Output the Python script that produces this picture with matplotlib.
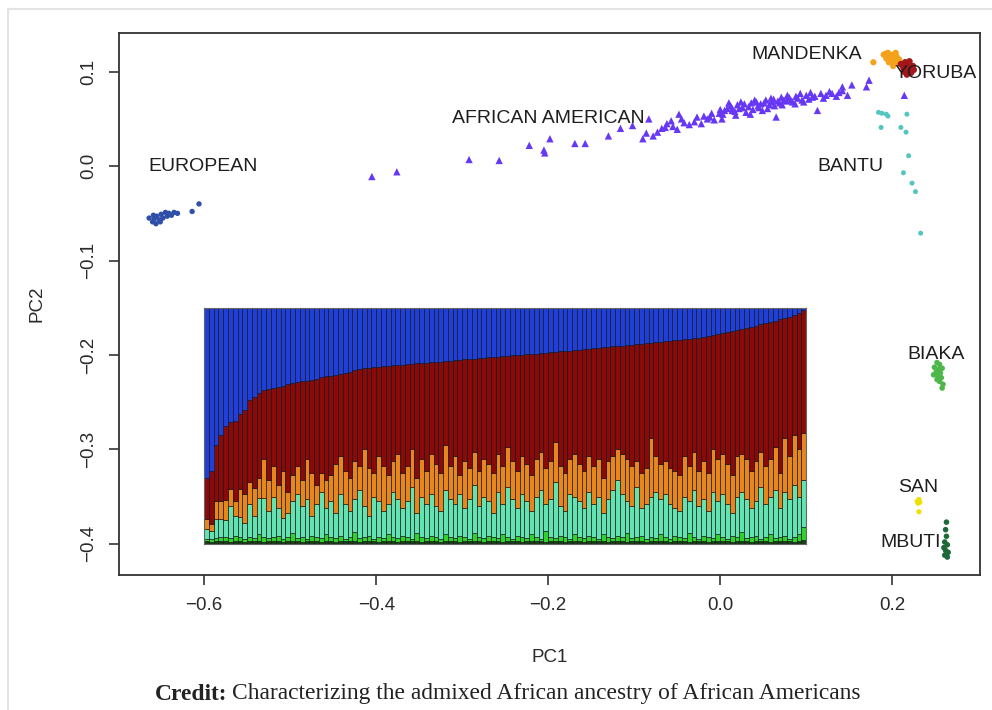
import matplotlib
matplotlib.use("Agg")
import matplotlib.pyplot as plt
from matplotlib.lines import Line2D
import numpy as np

# ---------------- scatter data (PC1, PC2) ----------------
european_x = [-0.664, -0.660, -0.658, -0.656, -0.655, -0.652, -0.650, -0.648, -0.645,
              -0.643, -0.641, -0.638, -0.635, -0.659, -0.651, -0.631, -0.614, -0.606]
european_y = [-0.055, -0.059, -0.056, -0.061, -0.053, -0.057, -0.051, -0.055, -0.049,
              -0.053, -0.050, -0.052, -0.049, -0.052, -0.059, -0.050, -0.048, -0.040]

aa_x = [-0.405, -0.376, -0.292, -0.257, -0.222, -0.205, -0.204, -0.198, -0.169, -0.157,
        -0.130, -0.116, -0.102, -0.086, -0.083, -0.073, -0.064, -0.057, -0.048, -0.042,
        -0.036, -0.027, -0.019, -0.010, -0.007, -0.001, 0.005, 0.010, 0.014, 0.020,
        0.026, 0.030, 0.036, 0.042, 0.045, 0.051, 0.055, 0.059, 0.060, 0.065,
        0.069, 0.074, 0.080, 0.084, 0.090, 0.095, 0.100, 0.107, 0.113, 0.117,
        0.123, 0.130, 0.138, 0.142, 0.148, 0.153, 0.170, 0.173, 0.142, 0.214,
        -0.030, -0.015, 0.000, 0.003, 0.008, 0.012, 0.017, 0.022, 0.028, 0.033,
        0.038, 0.040, 0.047, 0.049, 0.053, 0.057, 0.062, 0.063, 0.067, 0.071,
        0.072, 0.077, 0.078, 0.082, 0.087, 0.088, 0.093, 0.097, 0.103, 0.105,
        0.110, 0.120, 0.127, 0.135, -0.055, -0.050, -0.045, -0.068, -0.078, -0.090,
        -0.062, -0.022, -0.012, 0.018, 0.035, 0.002, 0.024, 0.044, 0.014]
aa_y = [-0.011, -0.006, 0.007, 0.006, 0.022, 0.017, 0.014, 0.029, 0.024, 0.024,
        0.032, 0.040, 0.043, 0.035, 0.050, 0.036, 0.041, 0.048, 0.055, 0.046,
        0.044, 0.052, 0.053, 0.056, 0.049, 0.056, 0.059, 0.067, 0.059, 0.065,
        0.062, 0.057, 0.067, 0.068, 0.062, 0.067, 0.061, 0.072, 0.068, 0.052,
        0.067, 0.070, 0.073, 0.068, 0.072, 0.070, 0.075, 0.073, 0.059, 0.077,
        0.075, 0.077, 0.078, 0.084, 0.075, 0.086, 0.084, 0.091, 0.080, 0.075,
        0.047, 0.050, 0.060, 0.055, 0.061, 0.064, 0.058, 0.061, 0.066, 0.063,
        0.060, 0.070, 0.066, 0.059, 0.070, 0.065, 0.071, 0.064, 0.069, 0.073,
        0.065, 0.069, 0.075, 0.070, 0.066, 0.074, 0.077, 0.068, 0.071, 0.078,
        0.074, 0.072, 0.079, 0.074, 0.042, 0.039, 0.050, 0.040, 0.032, 0.029,
        0.045, 0.045, 0.052, 0.054, 0.055, 0.050, 0.068, 0.064, 0.061]

mandenka_x = [0.178, 0.190, 0.193, 0.195, 0.197, 0.199, 0.200, 0.202, 0.203, 0.205,
              0.206, 0.208, 0.196, 0.201, 0.210, 0.192, 0.204]
mandenka_y = [0.110, 0.118, 0.114, 0.120, 0.116, 0.112, 0.118, 0.114, 0.109, 0.116,
              0.111, 0.113, 0.110, 0.106, 0.109, 0.119, 0.120]

yoruba_x = [0.210, 0.213, 0.215, 0.216, 0.218, 0.219, 0.221, 0.222, 0.224, 0.214,
            0.220, 0.217, 0.225]
yoruba_y = [0.108, 0.104, 0.110, 0.106, 0.101, 0.108, 0.104, 0.099, 0.106, 0.100,
            0.111, 0.097, 0.102]

bantu_x = [0.184, 0.188, 0.193, 0.195, 0.187, 0.217, 0.210, 0.216, 0.219, 0.213,
           0.223, 0.227, 0.233]
bantu_y = [0.057, 0.056, 0.055, 0.053, 0.041, 0.055, 0.041, 0.036, 0.011, -0.007,
           -0.018, -0.027, -0.071]

biaka_x = [0.252, 0.255, 0.249, 0.254, 0.258, 0.251, 0.256, 0.248, 0.253, 0.257,
           0.255, 0.259, 0.258, 0.252]
biaka_y = [-0.208, -0.210, -0.213, -0.215, -0.214, -0.218, -0.219, -0.221, -0.222,
           -0.224, -0.228, -0.231, -0.235, -0.226]

san_x = [0.229, 0.231, 0.230, 0.232, 0.231]
san_y = [-0.355, -0.353, -0.357, -0.356, -0.366]

mbuti_x = [0.263, 0.262, 0.263, 0.261, 0.264, 0.260, 0.262, 0.265, 0.261, 0.264]
mbuti_y = [-0.377, -0.385, -0.392, -0.398, -0.401, -0.404, -0.407, -0.409, -0.412, -0.414]

# population labels
label_names = ["EUROPEAN", "AFRICAN AMERICAN", "MANDENKA", "YORUBA", "BANTU",
               "BIAKA", "SAN", "MBUTI"]
label_x = [-0.601, -0.200, 0.100, 0.251, 0.151, 0.251, 0.230, 0.221]
label_y = [0.000, 0.050, 0.118, 0.098, 0.000, -0.200, -0.340, -0.399]

x_ticks = [-0.6, -0.4, -0.2, 0.0, 0.2]
x_ticklabels = ["\u22120.6", "\u22120.4", "\u22120.2", "0.0", "0.2"]
y_ticks = [0.1, 0.0, -0.1, -0.2, -0.3, -0.4]
y_ticklabels = ["0.1", "0.0", "\u22120.1", "\u22120.2", "\u22120.3", "\u22120.4"]

# ---------------- admixture bar data (cumulative boundaries) ----------------
mbuti_top = [0.010, 0.008, 0.010, 0.012, 0.010, 0.009, 0.011, 0.010, 0.008, 0.010,
             0.012, 0.010, 0.009, 0.010, 0.011, 0.010, 0.008, 0.010, 0.012, 0.010,
             0.009, 0.010, 0.011, 0.010, 0.008, 0.012, 0.010, 0.009, 0.010, 0.011,
             0.010, 0.012, 0.008, 0.010, 0.011, 0.010, 0.009, 0.010, 0.012, 0.010,
             0.008, 0.011, 0.010, 0.010, 0.012, 0.009, 0.010, 0.011, 0.010, 0.008,
             0.010, 0.012, 0.010, 0.009, 0.011, 0.010, 0.010, 0.012, 0.008, 0.010,
             0.011, 0.010, 0.009, 0.010, 0.012, 0.010, 0.008, 0.011, 0.010, 0.010,
             0.012, 0.009, 0.010, 0.011, 0.010, 0.008, 0.010, 0.012, 0.010, 0.009,
             0.011, 0.010, 0.010, 0.012, 0.008, 0.010, 0.011, 0.010, 0.009, 0.010,
             0.012, 0.010, 0.008, 0.011, 0.010, 0.010, 0.012, 0.009, 0.010, 0.011,
             0.010, 0.008, 0.010, 0.012, 0.010, 0.009, 0.011, 0.010, 0.010, 0.012,
             0.008, 0.010, 0.011, 0.010, 0.009, 0.010, 0.012, 0.010, 0.008, 0.011,
             0.010, 0.010, 0.012, 0.009, 0.010, 0.015]
green_top = [0.02, 0.02, 0.025, 0.03, 0.03, 0.025, 0.035, 0.03, 0.02, 0.03, 0.025, 0.04, 0.03,
             0.025, 0.03, 0.035, 0.02, 0.03, 0.045, 0.025, 0.03, 0.02, 0.035, 0.03, 0.025, 0.04,
             0.03, 0.025, 0.035, 0.02, 0.03, 0.05, 0.025, 0.03, 0.035, 0.02, 0.03, 0.025, 0.04,
             0.03, 0.025, 0.035, 0.03, 0.02, 0.045, 0.03, 0.025, 0.035, 0.03, 0.02, 0.04, 0.03,
             0.025, 0.035, 0.03, 0.02, 0.045, 0.03, 0.025, 0.035, 0.03, 0.025, 0.04, 0.03, 0.02,
             0.035, 0.03, 0.025, 0.04, 0.03, 0.02, 0.055, 0.03, 0.025, 0.035, 0.03, 0.02, 0.04,
             0.03, 0.025, 0.035, 0.03, 0.02, 0.04, 0.03, 0.025, 0.035, 0.03, 0.045, 0.025, 0.03,
             0.035, 0.02, 0.03, 0.025, 0.04, 0.03, 0.02, 0.035, 0.03, 0.025, 0.045, 0.03, 0.02,
             0.035, 0.03, 0.025, 0.04, 0.03, 0.02, 0.035, 0.03, 0.05, 0.025, 0.03, 0.035, 0.02,
             0.03, 0.04, 0.025, 0.03, 0.035, 0.02, 0.03, 0.04, 0.07]
teal_top = [0.064, 0.055, 0.106, 0.106, 0.10, 0.162, 0.12, 0.115, 0.09, 0.17, 0.12, 0.196, 0.196,
            0.14, 0.20, 0.15, 0.11, 0.13, 0.18, 0.21, 0.16, 0.19, 0.12, 0.17, 0.22, 0.15,
            0.18, 0.13, 0.21, 0.17, 0.14, 0.19, 0.23, 0.16, 0.12, 0.20, 0.18, 0.14, 0.17,
            0.22, 0.19, 0.15, 0.18, 0.24, 0.13, 0.20, 0.17, 0.21, 0.16, 0.14, 0.23, 0.19,
            0.17, 0.21, 0.15, 0.19, 0.25, 0.16, 0.20, 0.18, 0.13, 0.22, 0.17, 0.24, 0.19,
            0.15, 0.21, 0.18, 0.14, 0.20, 0.23, 0.17, 0.19, 0.26, 0.16, 0.14, 0.21, 0.20,
            0.18, 0.15, 0.22, 0.17, 0.20, 0.13, 0.19, 0.23, 0.27, 0.21, 0.18, 0.16, 0.24,
            0.15, 0.17, 0.20, 0.22, 0.19, 0.21, 0.17, 0.15, 0.14, 0.20, 0.18, 0.23, 0.16,
            0.19, 0.14, 0.22, 0.18, 0.21, 0.17, 0.13, 0.20, 0.22, 0.19, 0.15, 0.18, 0.24,
            0.17, 0.20, 0.23, 0.15, 0.22, 0.19, 0.25, 0.20, 0.27]
orange_top = [0.106, 0.085, 0.183, 0.18, 0.185, 0.234, 0.18, 0.234, 0.21, 0.26, 0.235, 0.28, 0.36,
              0.27, 0.33, 0.25, 0.31, 0.22, 0.29, 0.33, 0.27, 0.36, 0.30, 0.25, 0.30, 0.27,
              0.29, 0.34, 0.37, 0.31, 0.28, 0.35, 0.33, 0.40, 0.32, 0.30, 0.37, 0.33, 0.29,
              0.35, 0.38, 0.30, 0.33, 0.40, 0.28, 0.36, 0.31, 0.38, 0.34, 0.30, 0.42, 0.33,
              0.37, 0.29, 0.35, 0.32, 0.39, 0.31, 0.36, 0.34, 0.30, 0.38, 0.33, 0.41, 0.35,
              0.31, 0.37, 0.34, 0.29, 0.36, 0.39, 0.32, 0.35, 0.43, 0.33, 0.30, 0.36, 0.38,
              0.34, 0.31, 0.37, 0.33, 0.36, 0.28, 0.35, 0.37, 0.40, 0.38, 0.36, 0.33, 0.35,
              0.30, 0.32, 0.45, 0.37, 0.34, 0.35, 0.32, 0.31, 0.29, 0.37, 0.33, 0.39, 0.31,
              0.35, 0.30, 0.40, 0.36, 0.38, 0.34, 0.29, 0.37, 0.38, 0.36, 0.31, 0.35, 0.39,
              0.33, 0.36, 0.41, 0.30, 0.45, 0.37, 0.46, 0.40, 0.47]
red_top = [0.28, 0.31, 0.42, 0.46, 0.50, 0.515, 0.52, 0.55, 0.565, 0.61, 0.62, 0.64, 0.65,
           0.655, 0.66, 0.665, 0.67, 0.675, 0.68, 0.685, 0.69, 0.69, 0.695, 0.70, 0.705, 0.71,
           0.712, 0.715, 0.72, 0.725, 0.73, 0.735, 0.74, 0.745, 0.745, 0.748, 0.75, 0.752, 0.754,
           0.756, 0.757, 0.758, 0.76, 0.762, 0.764, 0.765, 0.767, 0.769, 0.77, 0.772, 0.774, 0.776,
           0.778, 0.78, 0.781, 0.783, 0.785, 0.786, 0.788, 0.79, 0.791, 0.793, 0.795, 0.796, 0.798,
           0.80, 0.801, 0.803, 0.805, 0.806, 0.808, 0.81, 0.812, 0.813, 0.815, 0.817, 0.819, 0.82,
           0.822, 0.824, 0.826, 0.828, 0.83, 0.832, 0.834, 0.836, 0.838, 0.84, 0.842, 0.844, 0.846,
           0.848, 0.85, 0.852, 0.854, 0.856, 0.858, 0.86, 0.862, 0.864, 0.866, 0.868, 0.871, 0.874,
           0.877, 0.881, 0.885, 0.889, 0.893, 0.897, 0.901, 0.905, 0.909, 0.913, 0.918, 0.924, 0.93,
           0.935, 0.94, 0.946, 0.951, 0.957, 0.963, 0.97, 0.978, 0.99]

# ---------------- figure ----------------
plt.rcParams['font.family'] = ['Liberation Sans', 'DejaVu Sans']
W, H = 992, 710
fig = plt.figure(figsize=(W / 100, H / 100), dpi=100)
fig.patch.set_facecolor('white')

# outer light frame (page box)
fig.add_artist(Line2D([8 / W, 8 / W], [0, 1 - 9 / H], transform=fig.transFigure,
                      color='#e3e3e3', lw=1.5))
fig.add_artist(Line2D([8 / W, 1], [1 - 9 / H, 1 - 9 / H], transform=fig.transFigure,
                      color='#e3e3e3', lw=1.5))

ax = fig.add_axes([119 / W, 1 - 575 / H, (980 - 119) / W, (575 - 33) / H])
ax.set_xlim(-0.699, 0.302)
ax.set_ylim(-0.433, 0.141)
for s in ax.spines.values():
    s.set_color('#333333')
    s.set_linewidth(1.3)

txtc = '#2a2a2a'
ax.set_xticks(x_ticks)
ax.set_xticklabels(x_ticklabels)
ax.set_yticks(y_ticks)
ax.set_yticklabels(y_ticklabels, rotation=90, va='center')
ax.tick_params(axis='both', direction='out', length=7, width=1.2, color='#333333',
               labelsize=13.5, labelcolor=txtc)
ax.tick_params(axis='x', pad=9)
ax.tick_params(axis='y', pad=9)
ax.set_xlabel('PC1', fontsize=13.5, color=txtc, labelpad=25)
ax.set_ylabel('PC2', fontsize=13.5, color=txtc, labelpad=25)

# scatter groups
ax.scatter(european_x, european_y, s=15, color='#2f4fa8', edgecolors='none', zorder=3)
ax.scatter(aa_x, aa_y, s=28, marker='^', color='#6638f5', edgecolors='none', zorder=3)
ax.scatter(bantu_x, bantu_y, s=13, color='#55c6bf', edgecolors='none', zorder=3)
ax.scatter(mandenka_x, mandenka_y, s=20, color='#f4a21c', edgecolors='none', zorder=3)
ax.scatter(yoruba_x, yoruba_y, s=22, color='#a4161a', edgecolors='none', zorder=3)
ax.scatter(biaka_x, biaka_y, s=16, color='#4db849', edgecolors='none', zorder=3)
ax.scatter(san_x, san_y, s=14, color='#f0e000', edgecolors='none', zorder=3)
ax.scatter(mbuti_x, mbuti_y, s=16, color='#1d6a38', edgecolors='none', zorder=3)

for name, lx, ly in zip(label_names, label_x, label_y):
    ax.text(lx, ly, name, fontsize=14, color='#1e1e1e', ha='center', va='center', zorder=4)

# inset admixture barplot
axin = ax.inset_axes([-0.6, -0.4, 0.7, 0.25], transform=ax.transData)
n = len(red_top)
idx = np.arange(n)
b0 = np.zeros(n)
b1 = np.array(mbuti_top)
b2 = np.array(green_top)
b3 = np.array(teal_top)
b4 = np.array(orange_top)
b5 = np.array(red_top)
b6 = np.ones(n)
seg = [(b0, b1, '#163d16'), (b1, b2, '#2fd12a'), (b2, b3, '#62e3b1'),
       (b3, b4, '#e6861c'), (b4, b5, '#8a0a0a'), (b5, b6, '#1f3fd8')]
for lo, hi, col in seg:
    axin.bar(idx, hi - lo, bottom=lo, width=1.0, color=col, edgecolor='#111111',
             linewidth=0.45)
axin.set_xlim(-0.5, n - 0.5)
axin.set_ylim(0, 1)
axin.set_xticks([])
axin.set_yticks([])
for s in axin.spines.values():
    s.set_color('#666666')
    s.set_linewidth(0.8)

# caption
cap_y = 1 - 694 / H
cap_size = 16.9
t1 = fig.text(155 / W, cap_y, 'Credit:', fontsize=cap_size, fontweight='bold',
              family=['Liberation Serif', 'DejaVu Serif'], color='#222222',
              ha='left', va='center')
fig.canvas.draw()
bb = t1.get_window_extent()
fig.text((bb.x1 + 5) / W, cap_y,
         'Characterizing the admixed African ancestry of African Americans',
         fontsize=cap_size, family=['Liberation Serif', 'DejaVu Serif'], color='#222222',
         ha='left', va='center')

fig.savefig('out.png', dpi=100)
